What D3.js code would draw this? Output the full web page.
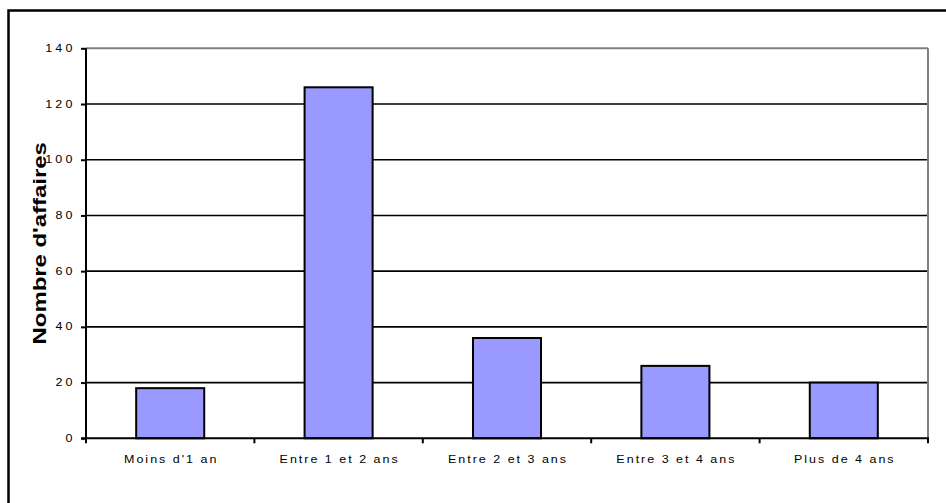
<!DOCTYPE html>
<html>
<head>
<meta charset="utf-8">
<script src="https://cdn.jsdelivr.net/npm/d3@7"></script>
<style>
  html, body { margin: 0; padding: 0; background: #ffffff; }
  svg { display: block; }
  text { font-family: Arial, "Liberation Sans", sans-serif; fill: #000; }
</style>
</head>
<body>
<svg id="chart" width="946" height="503"></svg>
<script>
// Durée des affaires : nombre d'affaires par tranche d'ancienneté
const categories = ["Moins d'1 an", "Entre 1 et 2 ans", "Entre 2 et 3 ans", "Entre 3 et 4 ans", "Plus de 4 ans"];
const values = [18, 126, 36, 26, 20];
const yTicks = [0, 20, 40, 60, 80, 100, 120, 140];
const yTitle = "Nombre d'affaires";

const svg = d3.select("#chart");
const plot = { left: 86, right: 928, top: 48.3, bottom: 438.3 };

const x = d3.scaleBand()
  .domain(categories)
  .range([plot.left, plot.right])
  .paddingInner(0.596)
  .paddingOuter(0.298);

const xCells = d3.scaleBand()
  .domain(categories)
  .range([plot.left, plot.right])
  .padding(0);

const y = d3.scaleLinear()
  .domain([0, d3.max(yTicks)])
  .range([plot.bottom, plot.top]);

// Wide, spaced label text (stretched glyphs plus tracking)
function wideText(sel, { px, py, str, anchor, size, sx, ls, weight, rotate }) {
  const g = sel.append("g")
    .attr("transform", `translate(${px},${py})${rotate ? ` rotate(${rotate})` : ""} scale(${sx},1)`);
  const shift = anchor === "middle" ? ls / 2 : anchor === "end" ? ls : 0;
  g.append("text")
    .attr("x", shift)
    .attr("text-anchor", anchor)
    .style("font-size", size + "px")
    .style("font-weight", weight || "normal")
    .style("letter-spacing", ls + "px")
    .text(str);
  return g;
}

// Outer chart frame (only left and top edges fall inside the view)
svg.append("rect")
  .attr("x", 8.5).attr("y", 10.5)
  .attr("width", 1000).attr("height", 600)
  .attr("fill", "none")
  .attr("stroke", "#000")
  .attr("stroke-width", 2.5);

// Horizontal gridlines
svg.append("g").selectAll("line")
  .data(yTicks.filter(d => d > 0))
  .join("line")
  .attr("x1", plot.left).attr("x2", plot.right)
  .attr("y1", d => y(d)).attr("y2", d => y(d))
  .attr("stroke", d => d === d3.max(yTicks) ? "#808080" : "#000")
  .attr("stroke-width", d => d === d3.max(yTicks) ? 2 : 1.6);

// Right edge of the plot area
svg.append("line")
  .attr("x1", plot.right).attr("x2", plot.right)
  .attr("y1", y(d3.max(yTicks))).attr("y2", y(0))
  .attr("stroke", "#808080").attr("stroke-width", 2);

// Bars
svg.append("g").selectAll("rect")
  .data(categories.map((c, i) => ({ c, v: values[i] })))
  .join("rect")
  .attr("x", d => x(d.c))
  .attr("y", d => y(d.v))
  .attr("width", x.bandwidth())
  .attr("height", d => y(0) - y(d.v))
  .attr("fill", "#9999FF")
  .attr("stroke", "#000")
  .attr("stroke-width", 2);

// Y axis line and ticks
const yAxis = svg.append("g")
  .attr("transform", `translate(${plot.left},0)`)
  .call(d3.axisLeft(y).tickValues(yTicks).tickSize(5).tickFormat(""));
yAxis.select(".domain").attr("stroke", "#000").attr("stroke-width", 2).attr("d", `M0,${plot.top}V${plot.bottom}`);
yAxis.selectAll(".tick line").attr("stroke", "#000").attr("stroke-width", 2);

// X axis line and cell-boundary ticks
const xBounds = categories.map(c => xCells(c)).concat([plot.right]);
svg.append("line")
  .attr("x1", plot.left - 5).attr("x2", plot.right + 1)
  .attr("y1", y(0)).attr("y2", y(0))
  .attr("stroke", "#000").attr("stroke-width", 2);
svg.append("g").selectAll("line")
  .data(xBounds)
  .join("line")
  .attr("x1", d => d).attr("x2", d => d)
  .attr("y1", y(0)).attr("y2", y(0) + 5)
  .attr("stroke", "#000").attr("stroke-width", 2);

// Y tick labels
yTicks.forEach(t => {
  wideText(svg, { px: 72.5, py: y(t) + 3.6, str: String(t), anchor: "end", size: 10, sx: 1.25, ls: 2.6 });
});

// Category labels
categories.forEach(c => {
  wideText(svg, { px: x(c) + x.bandwidth() / 2, py: 463, str: c, anchor: "middle", size: 10, sx: 1.25, ls: 1.6 });
});

// Y axis title
wideText(svg, { px: 46, py: (plot.top + plot.bottom) / 2, str: yTitle, anchor: "middle", size: 18, sx: 1.33, ls: 0, weight: "bold", rotate: -90 });
</script>
</body>
</html>
